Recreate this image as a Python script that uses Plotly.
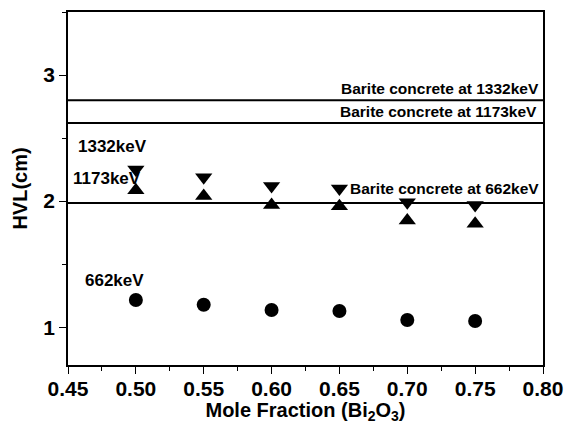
import plotly.graph_objects as go

mole_fraction = [0.50, 0.55, 0.60, 0.65, 0.70, 0.75]
hvl_662 = [1.216, 1.178, 1.136, 1.128, 1.057, 1.049]
hvl_1173 = [2.086, 2.04, 1.97, 1.96, 1.846, 1.82]
hvl_1332 = [2.25, 2.19, 2.12, 2.10, 1.99, 1.97]

barite_662 = 1.985
barite_1173 = 2.62
barite_1332 = 2.80

x_range = [0.45, 0.80]
y_range = [0.7, 3.5]

FONT = "Liberation Sans, Arial, sans-serif"

fig = go.Figure()

for val in [barite_1332, barite_1173, barite_662]:
    fig.add_trace(go.Scatter(x=x_range, y=[val, val], mode="lines",
                             line=dict(color="black", width=2), showlegend=False,
                             hoverinfo="skip"))

fig.add_trace(go.Scatter(x=mole_fraction, y=hvl_662, mode="markers",
                         marker=dict(symbol="circle", size=14, color="black"),
                         showlegend=False))
fig.add_trace(go.Scatter(x=mole_fraction, y=hvl_1173, mode="markers",
                         marker=dict(symbol="triangle-up", size=15, color="black"),
                         showlegend=False))
fig.add_trace(go.Scatter(x=mole_fraction, y=hvl_1332, mode="markers",
                         marker=dict(symbol="triangle-down", size=15, color="black"),
                         showlegend=False))

ann_font = dict(family=FONT, size=15.5, color="black", weight="bold")
small_font = dict(family=FONT, size=17, color="black", weight="bold")
annotations = [
    dict(text="Barite concrete at 1332keV", xref="paper", x=1, y=barite_1332,
         xanchor="right", yanchor="bottom", xshift=-2, yshift=1, font=ann_font),
    dict(text="Barite concrete at 1173keV", xref="paper", x=1, y=barite_1173,
         xanchor="right", yanchor="bottom", xshift=-4, yshift=1, font=ann_font),
    dict(text="Barite concrete at 662keV", xref="paper", x=1, y=barite_662,
         xanchor="right", yanchor="bottom", xshift=-2, yshift=4, font=ann_font),
    dict(text="1332keV", x=0.483, y=2.43, xanchor="center", yanchor="middle", font=small_font),
    dict(text="1173keV", x=0.479, y=2.18, xanchor="center", yanchor="middle", font=small_font),
    dict(text="662keV", x=0.4846, y=1.374, xanchor="center", yanchor="middle", font=small_font),
]
for a in annotations:
    fig.add_annotation(showarrow=False, **a)

axis_common = dict(
    showline=True, linecolor="black", linewidth=1.5, mirror=True,
    ticks="outside", tickcolor="black", tickwidth=1.2, ticklen=7,
    showgrid=False, zeroline=False, automargin=False,
    tickfont=dict(family=FONT, size=21, color="black", weight="bold"),
)

fig.update_xaxes(range=x_range, dtick=0.05, tick0=0.45, tickformat=".2f",
                 ticklabelstandoff=-3,
                 minor=dict(ticks="outside", ticklen=4, dtick=0.025, tickcolor="black", tickwidth=1),
                 title=dict(text="Mole Fraction (Bi<sub>2</sub>O<sub>3</sub>)",
                            font=dict(family=FONT, size=20, color="black", weight="bold"),
                            standoff=3),
                 **axis_common)
fig.update_yaxes(range=y_range, dtick=1, tick0=0,
                 minor=dict(ticks="outside", ticklen=4, dtick=0.5, tickcolor="black", tickwidth=1),
                 title=dict(text="HVL(cm)",
                            font=dict(family=FONT, size=20, color="black", weight="bold"),
                            standoff=10),
                 **axis_common)

fig.update_layout(width=566, height=424,
                  margin=dict(l=68, r=23, t=12, b=59),
                  plot_bgcolor="white", paper_bgcolor="white")

fig.write_html("out.html", config={"displayModeBar": False},
               post_script="document.body.style.margin='0';document.body.style.padding='0';document.body.style.overflow='hidden';")
